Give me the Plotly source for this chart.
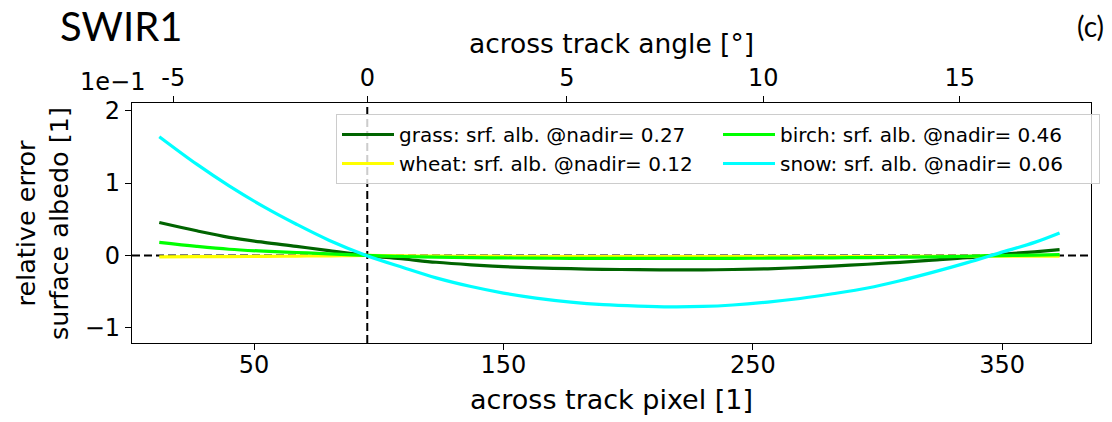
import plotly.graph_objects as go

# ---- data (relative error of surface albedo, in units of 1e-1) ----
pixel = [12, 27, 40, 54, 67, 80, 95, 110, 123, 137, 150, 163, 177, 190, 204, 217,
         230, 242, 256, 269, 282, 296, 309, 322, 336, 349, 363, 373]
grass = [0.455, 0.34, 0.25, 0.18, 0.125, 0.065, 0.0, -0.05, -0.095, -0.13, -0.155, -0.172,
         -0.184, -0.192, -0.197, -0.20, -0.20, -0.195, -0.185, -0.168, -0.148, -0.122,
         -0.095, -0.065, -0.032, 0.012, 0.05, 0.08]
wheat = [-0.02, -0.018, -0.016, -0.014, -0.01, -0.006, 0.0, -0.006, -0.01, -0.013, -0.015,
         -0.016, -0.017, -0.018, -0.018, -0.018, -0.018, -0.018, -0.018, -0.018, -0.017,
         -0.016, -0.015, -0.014, -0.012, -0.01, -0.01, -0.01]
birch = [0.18, 0.125, 0.085, 0.058, 0.04, 0.022, 0.0, -0.015, -0.025, -0.03, -0.035, -0.038,
         -0.04, -0.04, -0.04, -0.04, -0.04, -0.04, -0.039, -0.036, -0.033, -0.03, -0.025,
         -0.02, -0.012, -0.003, 0.004, 0.01]
snow = [1.64, 1.26, 0.96, 0.67, 0.43, 0.21, 0.0, -0.17, -0.31, -0.43, -0.52, -0.59, -0.645,
        -0.68, -0.70, -0.71, -0.705, -0.685, -0.645, -0.595, -0.53, -0.45, -0.35, -0.235,
        -0.10, 0.035, 0.18, 0.31]

series = [
    ("grass: srf. alb. @nadir= 0.27", grass, "#006400", 1),
    ("wheat: srf. alb. @nadir= 0.12", wheat, "#ffff00", 3),
    ("birch: srf. alb. @nadir= 0.46", birch, "#00ff00", 2),
    ("snow: srf. alb. @nadir= 0.06", snow, "#00ffff", 4),
]

x_ticks = [50, 150, 250, 350]
angle_ticks = ["-5", "0", "5", "10", "15"]
angle_tick_pixel = [17.6, 95.4, 175.4, 254.2, 333.0]
nadir_pixel = 95.4
y_ticks = [-1, 0, 1, 2]
y_tick_text = ["\u22121", "0", "1", "2"]
x_range = [1.06, 385.6]
y_range = [-1.21, 2.105]

W, H = 1112, 422
L, R, T, B = 132, 21, 103, 79
PW, PH = W - L - R, H - T - B


def px(x):
    return (x - L) / PW


def py(y):
    return (H - B - y) / PH


FONT = "DejaVu Sans"

fig = go.Figure()
for name, vals, col, rank in series:
    fig.add_trace(go.Scatter(
        x=pixel, y=vals, mode="lines", name=name,
        line=dict(color=col, width=3.2, shape="spline", smoothing=1.0),
        legendrank=rank,
    ))

# invisible trace to carry the top axis
fig.add_trace(go.Scatter(x=x_range, y=[0, 0], xaxis="x2", mode="markers",
                         marker=dict(opacity=0), showlegend=False, hoverinfo="skip"))

# reference dashed lines
fig.add_shape(type="line", xref="paper", yref="y", x0=0, x1=1, y0=0, y1=0,
              line=dict(color="black", width=2, dash="8px,4px"), layer="below")
fig.add_shape(type="line", xref="x", yref="paper", x0=nadir_pixel, x1=nadir_pixel, y0=0, y1=1,
              line=dict(color="black", width=2, dash="8px,4px"), layer="below")

axis_common = dict(showgrid=False, zeroline=False, showline=True, linecolor="black",
                   linewidth=1.2, ticks="outside", ticklen=6, tickcolor="black",
                   tickfont=dict(family=FONT, size=24, color="black"))

fig.update_layout(
    width=W, height=H,
    margin=dict(l=L, r=R, t=T, b=B, autoexpand=False),
    paper_bgcolor="white", plot_bgcolor="white",
    font=dict(family=FONT, color="black"),
    xaxis=dict(range=x_range, tickvals=x_ticks, ticklabelstandoff=-6,
               title=dict(text="across track pixel [1]", font=dict(family=FONT, size=27), standoff=12),
               **axis_common),
    xaxis2=dict(range=x_range, overlaying="x", side="top", tickvals=angle_tick_pixel,
                ticktext=angle_ticks,
                title=dict(text="across track angle [°]", font=dict(family=FONT, size=26.5), standoff=3),
                **axis_common),
    yaxis=dict(range=y_range, tickvals=y_ticks, ticktext=y_tick_text, mirror=True, **axis_common),
    legend=dict(x=px(336), y=py(114), xanchor="left", yanchor="top",
                orientation="h", entrywidth=314, entrywidthmode="pixels", itemwidth=52,
                bgcolor="rgba(255,255,255,0.8)", bordercolor="#cccccc", borderwidth=1,
                font=dict(family=FONT, size=20, color="black"), traceorder="normal"),
    showlegend=True,
)

fig.add_annotation(text="relative error<br>surface albedo [1]", textangle=-90,
                   x=px(42), y=py(224), xref="paper", yref="paper", showarrow=False,
                   xanchor="center", yanchor="middle",
                   font=dict(family=FONT, size=25.5, color="black"))
fig.add_annotation(text="1e\u22121", x=px(147), y=py(82), xref="paper", yref="paper",
                   xanchor="right", yanchor="middle", showarrow=False,
                   font=dict(family=FONT, size=24, color="black"))
fig.add_annotation(text="SWIR1", x=px(58), y=py(26), xref="paper", yref="paper",
                   xanchor="left", yanchor="middle", showarrow=False,
                   font=dict(family="Lato", size=40, color="black"))
fig.add_annotation(text="(c)", x=px(1106), y=py(26), xref="paper", yref="paper",
                   xanchor="right", yanchor="middle", showarrow=False,
                   font=dict(family="Lato", size=28, color="black"))

fig.write_html("out.html")
